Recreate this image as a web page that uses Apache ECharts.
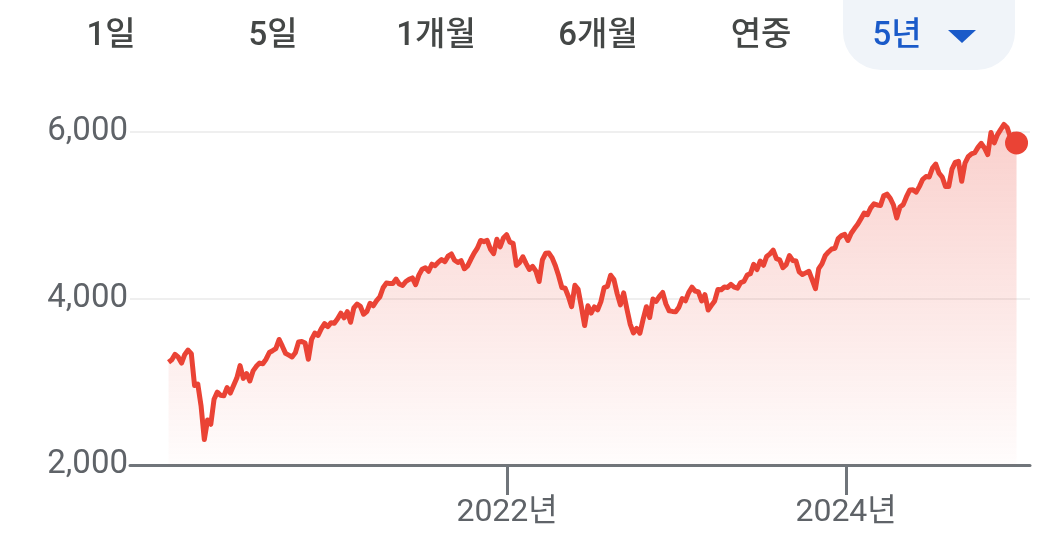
<!DOCTYPE html>
<html>
<head>
<meta charset="utf-8">
<script src="https://cdn.jsdelivr.net/npm/echarts@6/dist/echarts.min.js"></script>
<style>
html,body{margin:0;padding:0;background:#fff;}
#chart{width:1058px;height:552px;}
</style>
</head>
<body>
<div id="chart"></div>
<script>
// Weekly closes (Fridays), starting 2020-01-03
const values2020 = [3235,3265,3330,3295,3225,3328,3380,3338,2954,2972,2711,2305,2541,2489,2790,2875,2837,2831,2930,2864,2955,3044,3194,3041,3098,3009,3130,3185,3224,3216,3271,3351,3373,3397,3508,3427,3341,3319,3298,3348,3477,3483,3465,3270,3509,3585,3557,3638,3699,3663,3709,3703,3756];
const values2021 = [3824,3768,3841,3714,3887,3934,3907,3811,3842,3943,3913,3975,4020,4129,4185,4180,4181,4233,4174,4156,4204,4230,4247,4166,4281,4352,4370,4327,4412,4395,4437,4468,4442,4509,4535,4459,4433,4455,4357,4391,4471,4545,4605,4697,4683,4698,4595,4538,4712,4620,4726,4766];
const values2022 = [4677,4663,4398,4432,4501,4419,4349,4385,4329,4204,4463,4543,4546,4488,4393,4272,4132,4123,4024,3901,4158,4109,3901,3675,3912,3825,3899,3863,3962,4130,4145,4280,4228,4058,3924,4067,3873,3693,3586,3640,3583,3752,3901,3771,3993,3965,4026,4072,3934,3852,3845,3840];
const values2023 = [3895,3999,3973,4071,4136,4090,4079,3970,4046,3862,3917,3971,4109,4105,4138,4133,4169,4136,4124,4192,4205,4282,4299,4410,4348,4450,4399,4505,4536,4582,4478,4464,4370,4406,4516,4457,4450,4320,4288,4308,4327,4224,4117,4358,4415,4514,4559,4595,4604,4719,4755,4770];
const values2024 = [4697,4784,4840,4891,4959,5027,5006,5089,5137,5124,5117,5234,5254,5204,5123,4967,5100,5128,5223,5303,5305,5278,5347,5432,5465,5460,5567,5615,5505,5459,5346,5344,5554,5634,5648,5408,5626,5703,5738,5751,5815,5864,5808,5729,5995,5870,5969,6032,6090,6051,5930,5970];
const firstWeek = '2020-01-03';
const lastDate = '2025-01-02';
const lastValue = 5869;
const yTicks = [2000, 4000, 6000];
const xTickDates = ['2022-01-01', '2024-01-01'];
const ranges = ['1일', '5일', '1개월', '6개월', '연중', '5년'];

const DAY = 86400000;
const toTs = s => { const p = s.split('-').map(Number); return Date.UTC(p[0], p[1] - 1, p[2]); };
const weekly = [].concat(values2020, values2021, values2022, values2023, values2024);
const data = [];
let t = toTs(firstWeek);
for (const v of weekly) { data.push([t, v]); t += 7 * DAY; }
data.push([toTs(lastDate), lastValue]);

const FONT = 'Roboto, "Noto Sans CJK KR", sans-serif';
const RED = '#ea4335';

const chart = echarts.init(document.getElementById('chart'), null, {renderer: 'canvas'});
const btnX = [111, 273, 436, 598, 761, 897];
const graphics = [
  {type: 'rect', z: 0, shape: {x: 843, y: -40, width: 172, height: 110, r: 38}, style: {fill: '#f0f4f9'}},
  {type: 'polygon', z: 1, shape: {points: [[948, 30], [976, 30], [962, 43]]}, style: {fill: '#1a5ac9'}}
];
ranges.forEach((r, i) => {
  graphics.push({type: 'text', z: 1, style: {
    text: r, x: btnX[i], y: 37, align: 'center', verticalAlign: 'middle',
    font: '500 33px ' + FONT, fill: i === ranges.length - 1 ? '#1a5ac9' : '#444746'
  }});
});

chart.setOption({
  animation: false,
  grid: {left: 130, right: 28, top: 132, bottom: 87, containLabel: false},
  graphic: graphics,
  xAxis: {
    type: 'value',
    min: toTs('2019-10-12'),
    max: toTs('2025-01-31'),
    axisLine: {show: true, onZero: false, lineStyle: {color: '#70757a', width: 3}},
    axisTick: {show: true, length: 30, lineStyle: {color: '#70757a', width: 3},
      customValues: xTickDates.map(toTs)},
    axisLabel: {show: true, margin: 32, fontSize: 32, color: '#5f6368', fontFamily: FONT,
      customValues: xTickDates.map(toTs),
      formatter: v => new Date(v).getUTCFullYear() + '년'},
    splitLine: {show: false}
  },
  yAxis: {
    type: 'value', min: yTicks[0], max: yTicks[yTicks.length - 1], interval: 2000,
    axisLine: {show: false}, axisTick: {show: false},
    axisLabel: {margin: 2, fontSize: 33, color: '#5f6368', fontFamily: FONT,
      formatter: v => v.toLocaleString('en-US')},
    splitLine: {show: true, lineStyle: {color: '#efefef', width: 2}}
  },
  series: [
    {
      type: 'line', data: data, showSymbol: false, z: 3, clip: false,
      lineStyle: {color: RED, width: 5, join: 'round'},
      areaStyle: {color: new echarts.graphic.LinearGradient(0, 0, 0, 1, [
        {offset: 0, color: 'rgba(234,67,53,0.36)'},
        {offset: 1, color: 'rgba(234,67,53,0.02)'}
      ])}
    },
    {
      type: 'scatter', data: [[toTs(lastDate), lastValue]], symbolSize: 23, z: 4, clip: false,
      itemStyle: {color: RED, opacity: 1}
    }
  ]
});
</script>
</body>
</html>
